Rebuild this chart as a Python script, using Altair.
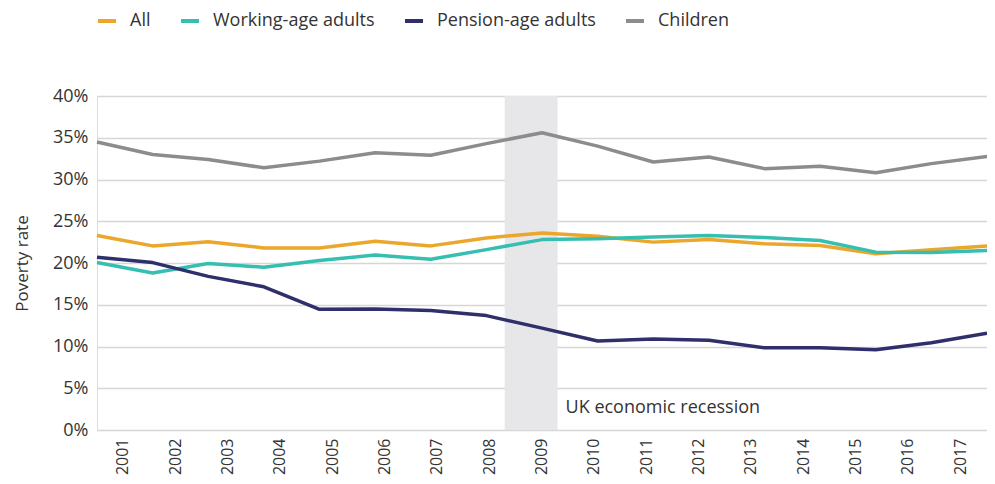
import altair as alt
import pandas as pd

years = [str(y) for y in range(2001, 2018)]
series_names = ["All", "Working-age adults", "Pension-age adults", "Children"]
series_colors = ["#EBA72B", "#35BFB0", "#2E2F6B", "#8C8C8C"]

all_people = [23.3, 22.05, 22.55, 21.8, 21.8, 22.6, 22.05, 23.0, 23.6, 23.2, 22.5, 22.8, 22.3, 22.1, 21.1, 21.6, 22.05]
working_age = [20.05, 18.8, 19.95, 19.5, 20.3, 20.95, 20.45, 21.6, 22.8, 22.9, 23.1, 23.3, 23.05, 22.7, 21.3, 21.25, 21.5]
pension_age = [20.7, 20.05, 18.4, 17.15, 14.45, 14.5, 14.3, 13.7, 12.2, 10.65, 10.9, 10.75, 9.85, 9.85, 9.6, 10.45, 11.6]
children = [34.5, 33.0, 32.4, 31.4, 32.2, 33.2, 32.9, 34.3, 35.6, 34.0, 32.1, 32.7, 31.3, 31.6, 30.8, 31.9, 32.75]

recession_start = 7.33  # position along the year index (2008.33)
recession_end = 8.28    # (2009.28)
recession_label = "UK economic recession"
y_ticks = [0, 5, 10, 15, 20, 25, 30, 35, 40]

FONT = "Open Sans"
TEXT = "#333333"

rows = []
for name, vals in zip(series_names, [all_people, working_age, pension_age, children]):
    for i, (yr, v) in enumerate(zip(years, vals)):
        rows.append({"series": name, "idx": i, "year": yr, "rate": v})
df = pd.DataFrame(rows)

xq = alt.Scale(domain=[0, len(years) - 1], nice=False, zero=False)
yscale = alt.Scale(domain=[0, 40], nice=False)
yaxis = alt.Axis(values=y_ticks, labelExpr="datum.value + '%'", title="Poverty rate",
                 grid=True, gridColor="#d6d6d6", gridWidth=1.5, domain=False, ticks=False,
                 labelPadding=9, labelFontSize=18, labelColor=TEXT, labelFont=FONT,
                 titleFont=FONT, titleFontSize=17, titleFontWeight="normal", titleColor=TEXT,
                 titlePadding=21)

rect = alt.Chart(pd.DataFrame({"x0": [recession_start], "x1": [recession_end]})).mark_rect(
    color="#E7E6E8").encode(
    x=alt.X("x0:Q", scale=xq, axis=None),
    x2="x1:Q",
    y=alt.datum(0, scale=yscale),
    y2=alt.datum(40),
)

lines = alt.Chart(df).mark_line(strokeWidth=3.5, strokeJoin="round").encode(
    x=alt.X("idx:Q", scale=xq, axis=None),
    y=alt.Y("rate:Q", scale=yscale, axis=yaxis),
    color=alt.Color("series:N", scale=alt.Scale(domain=series_names, range=series_colors),
                    sort=series_names,
                    legend=alt.Legend(title=None, orient="none", legendX=-1, legendY=-86,
                                      direction="horizontal", symbolType="stroke",
                                      symbolStrokeWidth=4, symbolSize=324,
                                      labelFontSize=18, labelFont=FONT, labelColor=TEXT,
                                      labelLimit=400,
                                      labelOffset=12, columnPadding=22, padding=0)),
    detail="series:N",
)

label = alt.Chart(pd.DataFrame({"t": [recession_label]})).mark_text(
    align="left", baseline="middle", dx=8, fontSize=18, font=FONT, color=TEXT).encode(
    x=alt.X(datum=recession_end, scale=xq, axis=None),
    y=alt.Y(datum=2.6, scale=yscale, axis=yaxis),
    text="t:N",
)

xband = alt.Chart(pd.DataFrame({"year": years})).mark_rule(opacity=0).encode(
    x=alt.X("year:N", sort=years,
            scale=alt.Scale(type="band", paddingInner=0, paddingOuter=0),
            axis=alt.Axis(title=None, orient="bottom", labelAngle=-90, domain=False, ticks=False,
                          grid=False, labelPadding=8, labelFontSize=16, labelFont=FONT,
                          labelColor=TEXT, labelAlign="right", labelBaseline="middle")),
)

chart = alt.layer(rect, lines, label, xband).resolve_scale(x="independent").properties(
    width=890, height=334,
    autosize=alt.AutoSizeParams(type="none"),
    padding={"left": 89, "top": 88, "right": 0, "bottom": 46},
).configure_view(stroke=None).configure(font=FONT)

chart.save("out.html", embed_options={"renderer": "svg", "actions": False})
